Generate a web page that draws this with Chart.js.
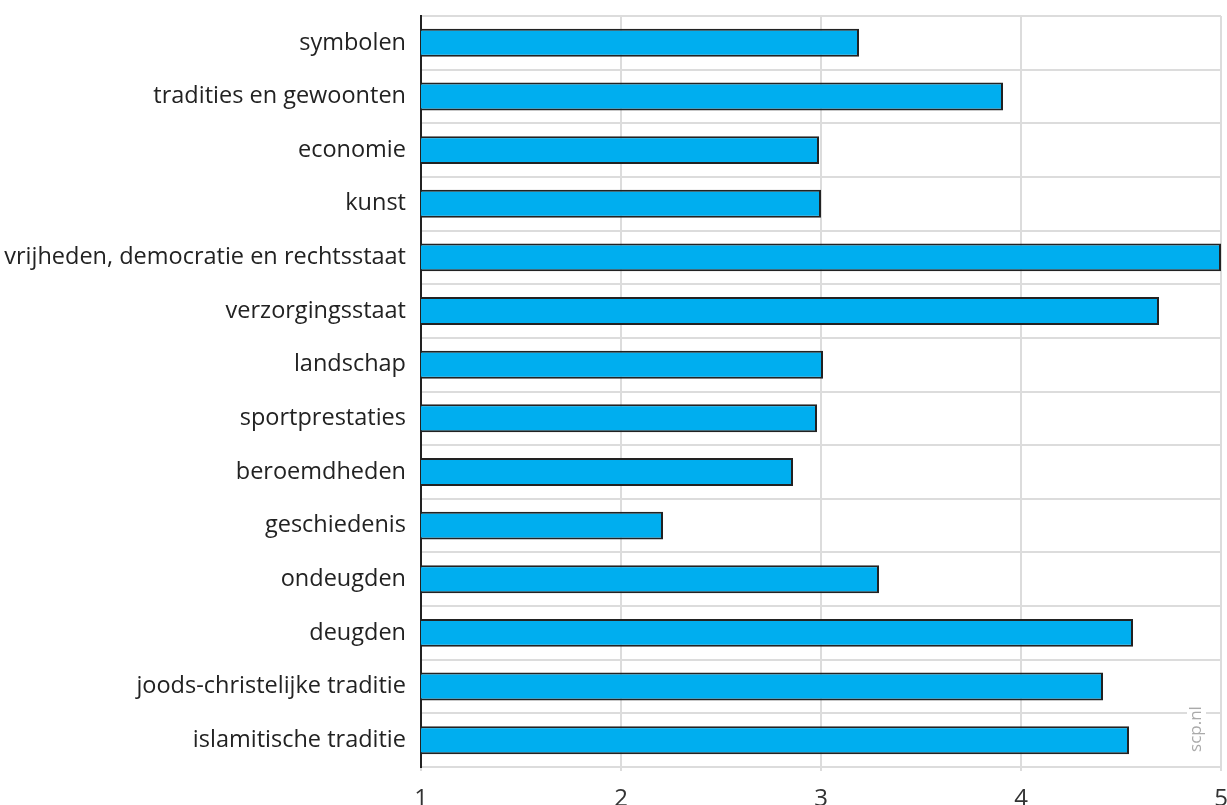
<!DOCTYPE html>
<html>
<head>
<meta charset="utf-8">
<script src="https://cdn.jsdelivr.net/npm/chart.js@4"></script>
<style>
  html, body { margin: 0; padding: 0; background: #fff; }
  #wrap { width: 1227px; height: 805px; }
</style>
</head>
<body>
<div id="wrap"><canvas id="barChart"></canvas></div>
<script>
var labels = ["symbolen", "tradities en gewoonten", "economie", "kunst",
  "vrijheden, democratie en rechtsstaat", "verzorgingsstaat", "landschap",
  "sportprestaties", "beroemdheden", "geschiedenis", "ondeugden", "deugden",
  "joods-christelijke traditie", "islamitische traditie"];
var values = [3.19, 3.91, 2.99, 3.00, 5.00, 4.69, 3.01, 2.98, 2.86, 2.21, 3.29, 4.56, 4.41, 4.54];
var xTicks = [1, 2, 3, 4, 5];

// vertical "scp.nl" mark bottom right
var watermark = {
  id: 'watermark',
  afterDraw: function(chart) {
    var ctx = chart.ctx;
    ctx.save();
    ctx.fillStyle = '#fff';
    ctx.fillRect(1187, 700, 19, 58);
    ctx.translate(1196, 729);
    ctx.rotate(-Math.PI / 2);
    ctx.font = '17px "Open Sans"';
    ctx.fillStyle = '#aaa';
    ctx.textAlign = 'center';
    ctx.textBaseline = 'middle';
    ctx.fillText('scp.nl', 0, 0);
    ctx.restore();
  }
};

new Chart(document.getElementById('barChart'), {
  type: 'bar',
  data: {
    labels: labels,
    datasets: [{
      data: values,
      backgroundColor: '#00aeef',
      borderColor: '#222',
      borderWidth: 2,
      borderSkipped: false,
      categoryPercentage: 1,
      barPercentage: 0.52
    }]
  },
  options: {
    indexAxis: 'y',
    responsive: true,
    maintainAspectRatio: false,
    animation: false,
    layout: { padding: { top: 16, right: 6, left: 0, bottom: 0 } },
    plugins: { legend: { display: false }, tooltip: { enabled: false } },
    scales: {
      x: {
        min: 1,
        max: 5,
        afterBuildTicks: function(scale) {
          scale.ticks = xTicks.map(function(v) { return { value: v }; });
        },
        afterFit: function(scale) {
          scale.height = 38;
          scale.paddingLeft = 0;
          scale.paddingRight = 0;
        },
        grid: { color: '#dcdcdc', lineWidth: 2, tickLength: 4 },
        border: { color: '#dcdcdc', width: 2 },
        ticks: { color: '#333', font: { family: 'Open Sans', size: 24 }, padding: 14 }
      },
      y: {
        afterFit: function(scale) {
          scale.width = 421;
          scale.paddingTop = 0;
          scale.paddingBottom = 0;
        },
        grid: { color: '#dcdcdc', lineWidth: 2, drawTicks: false },
        border: { color: '#222', width: 2 },
        ticks: { color: '#222', font: { family: 'Open Sans', size: 23.5 }, padding: 15 }
      }
    }
  },
  plugins: [watermark]
});
</script>
</body>
</html>
